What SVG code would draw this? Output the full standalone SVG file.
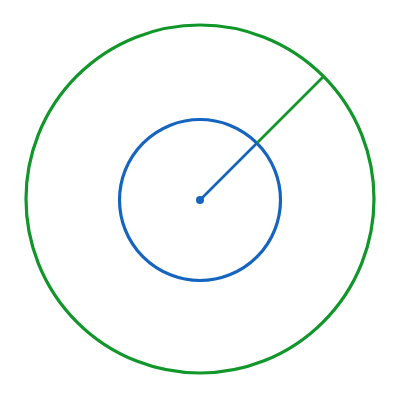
<svg xmlns="http://www.w3.org/2000/svg" width="400" height="400" viewBox="0 0 400 400">
<style>
.outer{fill:none;stroke:#11962a;stroke-width:3.2}
.inner{fill:none;stroke:#1565c0;stroke-width:3.2}
.rg{stroke:#11962a;stroke-width:2.6}
.rb{stroke:#1565c0;stroke-width:2.6}
</style>
<rect width="400" height="400" fill="#ffffff"/>
<g id="outer-circle"><circle class="outer" cx="200" cy="199" r="174"/></g>
<g id="inner-circle"><circle class="inner" cx="200" cy="200" r="80.5"/></g>
<g id="connectors">
<line class="rg" x1="257" y1="143" x2="323.5" y2="76.5"/>
<line class="rb" x1="200" y1="200" x2="257" y2="143"/>
</g>
<g id="center"><circle cx="200" cy="200" r="4" fill="#1565c0"/></g>
</svg>
